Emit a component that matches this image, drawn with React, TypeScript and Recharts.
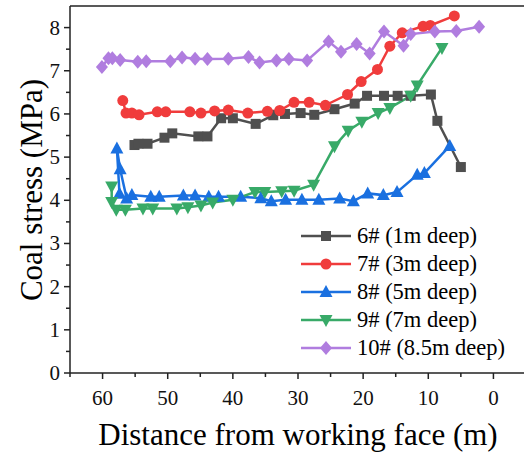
import React from "react";
import { LineChart, Line, XAxis, YAxis, ReferenceLine, Label } from "recharts";

// distance from working face (m) and coal stress (MPa) for each borehole
const x6 = [55.1, 54.5, 53.1, 50.5, 49.3, 45.3, 43.9, 41.8, 40.0, 36.5, 33.8, 32.0, 29.6, 27.5, 24.4, 21.3, 19.4, 16.8, 14.7, 12.7, 9.6, 8.6, 5.0];
const y6 = [5.28, 5.31, 5.31, 5.45, 5.55, 5.48, 5.48, 5.9, 5.9, 5.77, 5.97, 6.0, 6.02, 5.98, 6.11, 6.24, 6.42, 6.42, 6.42, 6.42, 6.45, 5.84, 4.77];

const x7 = [56.9, 56.4, 55.5, 54.4, 51.6, 50.3, 46.6, 44.9, 42.8, 40.7, 37.7, 34.7, 32.8, 30.6, 28.3, 25.8, 22.4, 20.3, 17.8, 15.9, 14.0, 10.8, 9.7, 6.0];
const y7 = [6.31, 6.02, 6.02, 5.98, 6.05, 6.05, 6.05, 6.02, 6.07, 6.09, 6.02, 6.06, 6.08, 6.27, 6.27, 6.2, 6.45, 6.75, 7.03, 7.57, 7.88, 8.03, 8.05, 8.27];

const x8 = [57.4, 57.8, 57.3, 56.3, 55.5, 52.6, 51.3, 47.6, 45.8, 43.7, 42.2, 38.8, 35.7, 34.1, 31.9, 29.4, 26.8, 23.6, 21.5, 19.3, 16.9, 14.8, 11.7, 10.6, 6.7];
const y8 = [4.15, 5.2, 4.72, 4.04, 4.12, 4.08, 4.08, 4.11, 4.11, 4.08, 4.08, 4.08, 4.05, 3.98, 4.01, 4.01, 4.01, 4.04, 3.98, 4.16, 4.12, 4.19, 4.59, 4.63, 5.26];

const x9 = [58.6, 58.6, 57.9, 56.5, 53.8, 52.3, 48.6, 46.9, 44.9, 43.1, 40.0, 36.6, 35.1, 32.5, 30.6, 27.6, 24.4, 22.3, 20.2, 17.7, 15.9, 12.7, 11.7, 7.9];
const y9 = [4.32, 3.96, 3.78, 3.78, 3.81, 3.81, 3.81, 3.84, 3.88, 3.95, 4.01, 4.19, 4.19, 4.21, 4.22, 4.36, 5.25, 5.61, 5.82, 6.02, 6.14, 6.42, 6.66, 7.53];

const x10 = [60.1, 59.1, 58.5, 57.3, 54.6, 53.3, 49.6, 47.8, 45.8, 43.9, 40.7, 37.6, 35.9, 33.3, 31.4, 28.6, 25.3, 23.4, 21.0, 19.0, 16.8, 13.8, 12.7, 9.0, 5.7, 2.2];
const y10 = [7.09, 7.29, 7.29, 7.25, 7.21, 7.22, 7.22, 7.31, 7.28, 7.27, 7.28, 7.32, 7.19, 7.24, 7.27, 7.24, 7.68, 7.44, 7.62, 7.4, 7.91, 7.58, 7.85, 7.91, 7.92, 8.02];

const names = ["6# (1m deep)", "7# (3m deep)", "8# (5m deep)", "9# (7m deep)", "10# (8.5m deep)"];
const colors = ["#4f4f4f", "#f03c3c", "#1a70e0", "#38aa68", "#b07ddf"];
const shapes = ["square", "circle", "triangle", "down", "diamond"];

const xTicks = [65, 60, 55, 50, 45, 40, 35, 30, 25, 20, 15, 10, 5, 0];
const yTicks = [0, 0.5, 1, 1.5, 2, 2.5, 3, 3.5, 4, 4.5, 5, 5.5, 6, 6.5, 7, 7.5, 8];

const zip = (xs: number[], ys: number[]) => xs.map((x, i) => ({ x, y: ys[i] }));
const seriesData = [zip(x6, y6), zip(x7, y7), zip(x8, y8), zip(x9, y9), zip(x10, y10)];

const FONT = "Liberation Serif, Times New Roman, serif";

function Marker({ cx, cy, shape, color }: { cx: number; cy: number; shape: string; color: string }) {
  if (shape === "square") return <rect x={cx - 5} y={cy - 5} width={10} height={10} fill={color} />;
  if (shape === "circle") return <circle cx={cx} cy={cy} r={5.5} fill={color} />;
  if (shape === "triangle")
    return <polygon points={`${cx},${cy - 7} ${cx + 6.5},${cy + 5} ${cx - 6.5},${cy + 5}`} fill={color} />;
  if (shape === "down")
    return <polygon points={`${cx},${cy + 7} ${cx + 6.5},${cy - 5} ${cx - 6.5},${cy - 5}`} fill={color} />;
  return <polygon points={`${cx},${cy - 7} ${cx + 6},${cy} ${cx},${cy + 7} ${cx - 6},${cy}`} fill={color} />;
}

const XTick = (props: any) => {
  const { x, y, payload } = props;
  const major = payload.value % 10 === 0;
  return (
    <g>
      <line x1={x} y1={y} x2={x} y2={y + (major ? 6 : 4)} stroke="#222" strokeWidth={1.5} />
      {major && (
        <text x={x} y={y + 32} textAnchor="middle" fontSize={21} fontFamily={FONT} fill="#111">
          {payload.value}
        </text>
      )}
    </g>
  );
};

const YTick = (props: any) => {
  const { x, y, payload } = props;
  const major = Number.isInteger(payload.value);
  return (
    <g>
      <line x1={x} y1={y} x2={x - (major ? 6 : 4)} y2={y} stroke="#222" strokeWidth={1.5} />
      {major && (
        <text x={x - 10} y={y + 7} textAnchor="end" fontSize={21} fontFamily={FONT} fill="#111">
          {payload.value}
        </text>
      )}
    </g>
  );
};

export default function App() {
  return (
    <div style={{ position: "absolute", left: 0, top: 0, width: 524, height: 454, overflow: "hidden", background: "#fff" }}>
      <LineChart width={540} height={454} margin={{ top: 6, right: 14, bottom: 0, left: 0 }}>
        <XAxis
          type="number"
          dataKey="x"
          domain={[-5, 65]}
          reversed
          ticks={xTicks}
          interval={0}
          tickLine={false}
          tickSize={0}
          tickMargin={0}
          tick={<XTick />}
          height={81}
          stroke="#222"
          strokeWidth={1.5}
          allowDataOverflow
        >
          <Label
            content={() => (
              <text x={298} y={445} textAnchor="middle" fontSize={31} fontFamily={FONT} fill="#000">
                Distance from working face (m)
              </text>
            )}
          />
        </XAxis>
        <YAxis
          type="number"
          domain={[0, 8.5]}
          ticks={yTicks}
          interval={0}
          tickLine={false}
          tickSize={0}
          tickMargin={0}
          tick={<YTick />}
          width={70}
          stroke="#222"
          strokeWidth={1.5}
          allowDataOverflow
        >
          <Label
            content={() => (
              <text x={42} y={190} transform="rotate(-90 42 190)" textAnchor="middle" fontSize={31} fontFamily={FONT} fill="#000">
                Coal stress (MPa)
              </text>
            )}
          />
        </YAxis>
        <ReferenceLine y={8.5} stroke="#222" strokeWidth={1.5} />
        {seriesData.map((d, i) => (
          <Line
            key={names[i]}
            data={d}
            dataKey="y"
            name={names[i]}
            stroke={colors[i]}
            strokeWidth={2.5}
            isAnimationActive={false}
            dot={(p: any) => <Marker key={`${i}-${p.index}`} cx={p.cx} cy={p.cy} shape={shapes[i]} color={colors[i]} />}
            activeDot={false}
          />
        ))}
      </LineChart>
      <svg style={{ position: "absolute", left: 0, top: 0 }} width={524} height={454} pointerEvents="none">
        {names.map((n, i) => {
          const cy = 236 + i * 28;
          return (
            <g key={n}>
              <line x1={301} y1={cy} x2={351} y2={cy} stroke={colors[i]} strokeWidth={2.5} />
              <Marker cx={326} cy={cy} shape={shapes[i]} color={colors[i]} />
              <text x={357} y={cy + 7} fontSize={22.5} fontFamily={FONT} fill="#000">
                {n}
              </text>
            </g>
          );
        })}
      </svg>
    </div>
  );
}
